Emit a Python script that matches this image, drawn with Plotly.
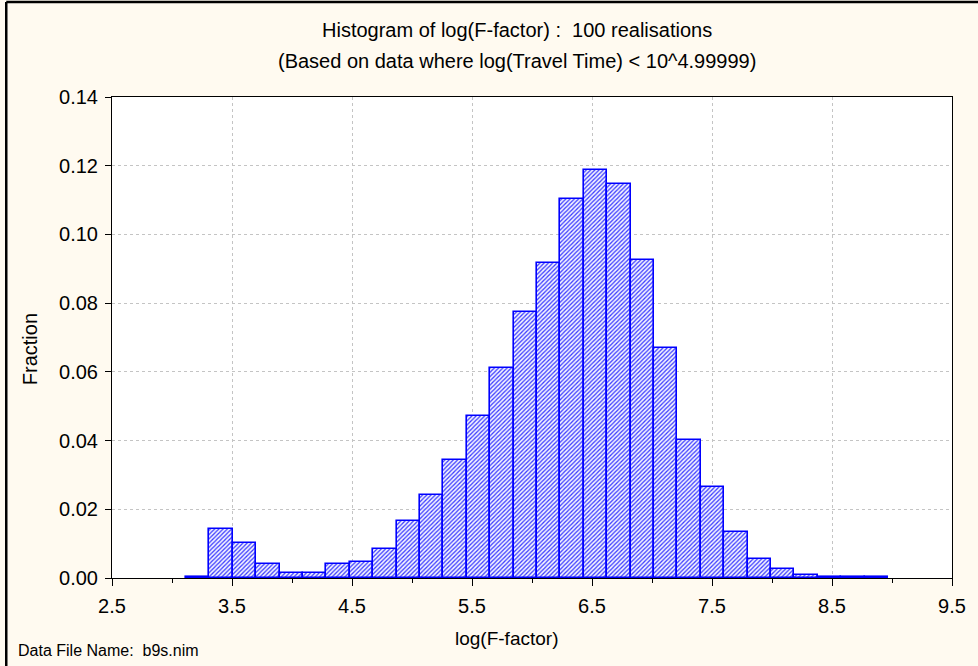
import plotly.graph_objects as go

# ---- data ----
bin_left = [3.117, 3.312, 3.507, 3.702, 3.897, 4.092, 4.287, 4.482, 4.677, 4.872,
            5.067, 5.262, 5.457, 5.652, 5.847, 6.042, 6.237, 6.432, 6.627, 6.822,
            7.017, 7.212, 7.407, 7.602, 7.797, 7.992, 8.187, 8.382, 8.577, 8.772]
bin_width = 0.195
fraction = [0.0003, 0.0143, 0.0103, 0.0040, 0.0016, 0.0016, 0.0040, 0.0047, 0.0083, 0.0167,
            0.0242, 0.0344, 0.0472, 0.0610, 0.0773, 0.0916, 0.1104, 0.1188, 0.1148, 0.0925,
            0.0669, 0.0401, 0.0266, 0.0135, 0.0056, 0.0025, 0.0009, 0.0003, 0.0003, 0.0002]
x_tick_vals = [2.5, 3.5, 4.5, 5.5, 6.5, 7.5, 8.5, 9.5]
y_tick_vals = [0.00, 0.02, 0.04, 0.06, 0.08, 0.10, 0.12, 0.14]
title_line1 = "Histogram of log(F-factor) :\u00a0 100 realisations"
title_line2 = "(Based on data where log(Travel Time) < 10^4.99999)"
x_title = "log(F-factor)"
y_title = "Fraction"
footer = "Data File Name:\u00a0 b9s.nim"

FONT = "Liberation Sans, Arial, sans-serif"
W, H = 978, 666
ML, MR, MT, MB = 112, 24, 97, 88
PW, PH = W - ML - MR, H - MT - MB


def px(xpix):
    return (xpix - ML) / PW


def py(ypix):
    return (H - MB - ypix) / PH


fig = go.Figure(
    go.Bar(
        x=bin_left,
        y=fraction,
        width=bin_width,
        offset=0,
        marker=dict(
            color="#1a1aff",
            line=dict(color="#0000ff", width=1.6),
            pattern=dict(shape="/", fgcolor="#3a3aff", bgcolor="#f4f4ff",
                         size=3, solidity=0.42, fillmode="replace"),
        ),
        showlegend=False,
    )
)

axis_common = dict(
    showline=True, linecolor="black", linewidth=1, mirror=True,
    ticks="outside", tickcolor="black",
    showgrid=True, gridcolor="#c4c4c4", griddash="dot", gridwidth=1,
    zeroline=False,
    ticklabelstandoff=3,
)

fig.update_xaxes(
    range=[2.5, 9.5], tickvals=x_tick_vals,
    ticktext=[f"{v:.1f}" for v in x_tick_vals],
    ticklen=7,
    tickfont=dict(family=FONT, size=20, color="black"),
    minor=dict(tick0=2.5, dtick=0.5, ticks="outside", ticklen=4,
               tickcolor="black", showgrid=False),
    **axis_common,
)
fig.update_yaxes(
    range=[0, 0.14], tickvals=y_tick_vals,
    ticktext=[f"{v:.2f}" for v in y_tick_vals],
    ticklen=6,
    tickfont=dict(family=FONT, size=20, color="black"),
    **axis_common,
)

ann = []
ann.append(dict(text=title_line1, x=px(518), y=py(30), xref="paper", yref="paper",
                showarrow=False, xanchor="center", yanchor="middle",
                font=dict(family=FONT, size=20, color="black")))
ann.append(dict(text=title_line2, x=px(518), y=py(61), xref="paper", yref="paper",
                showarrow=False, xanchor="center", yanchor="middle",
                font=dict(family=FONT, size=20, color="black")))
ann.append(dict(text=x_title, x=px(507), y=py(638), xref="paper", yref="paper",
                showarrow=False, xanchor="center", yanchor="middle",
                font=dict(family=FONT, size=19, color="black")))
ann.append(dict(text=y_title, x=px(30), y=py(349), xref="paper", yref="paper",
                showarrow=False, xanchor="center", yanchor="middle", textangle=-90,
                font=dict(family=FONT, size=20, color="black")))
ann.append(dict(text=footer, x=px(16), y=py(650), xref="paper", yref="paper",
                showarrow=False, xanchor="left", yanchor="middle",
                font=dict(family=FONT, size=16, color="black")))

frame = dict(color="black", width=2.5)
fig.update_layout(
    width=W, height=H,
    margin=dict(l=ML, r=MR, t=MT, b=MB, pad=0),
    paper_bgcolor="#fffaf0",
    plot_bgcolor="#ffffff",
    bargap=0,
    annotations=ann,
    shapes=[
        dict(type="line", xref="paper", yref="paper",
             x0=px(6), x1=px(6), y0=py(H + 5), y1=py(2), line=frame, layer="above"),
        dict(type="line", xref="paper", yref="paper",
             x0=px(6), x1=px(W + 5), y0=py(2), y1=py(2), line=frame, layer="above"),
    ],
)

fig.write_html("out.html")
